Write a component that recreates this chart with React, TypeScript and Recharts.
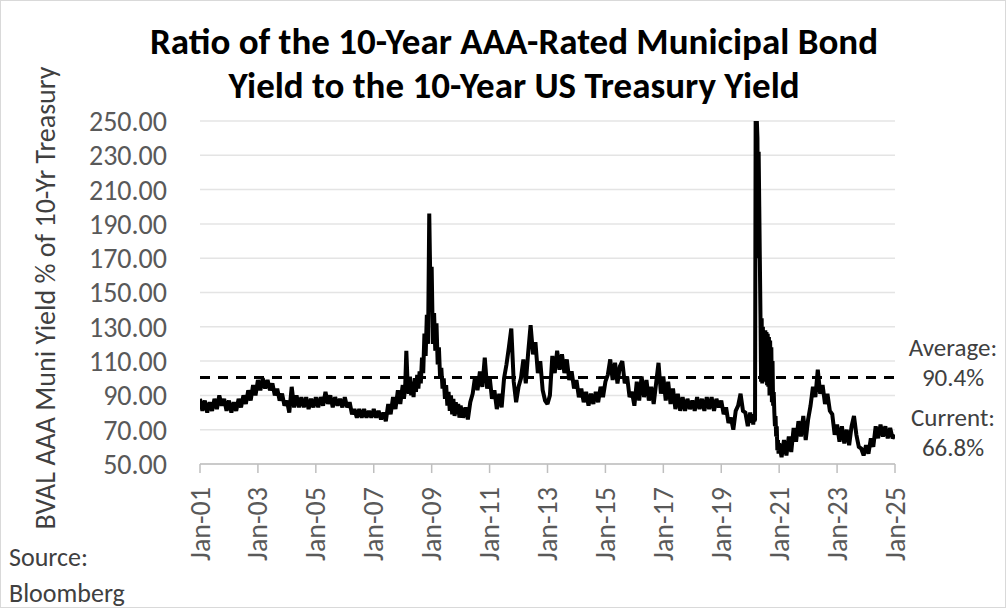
import React from 'react';
import { LineChart, Line, XAxis, YAxis, CartesianGrid, ReferenceLine } from 'recharts';

// Monthly (or finer) ratio readings, one array per year
const r2001 = [88, 81, 87, 80, 86, 81, 88, 82, 90, 84, 88, 81];
const r2002 = [87, 80, 86, 81, 88, 83, 90, 85, 93, 87, 96, 90];
const r2003 = [99, 93, 100, 94, 99, 93, 97, 90, 94, 87, 91, 84];
const r2004 = [87, 80, 95, 83, 90, 83, 89, 83, 89, 82, 88, 83];
const r2005 = [89, 83, 89, 84, 92, 85, 90, 83, 89, 84, 88, 83];
const r2006 = [89, 83, 86, 79, 82, 77, 82, 77, 82, 77, 81, 77];
const r2007 = [82, 77, 81, 76, 80, 75, 85, 79, 89, 82, 93, 85];
const r2008 = [96, 88, 94, 116, 98, 91, 101, 90, 98, 89, 100, 92, 102, 94, 104, 97, 112, 103, 126, 113, 137, 120, 196, 150];
const r2009 = [165, 120, 138, 116, 132, 108, 118, 100, 106, 94, 100, 88, 96, 84, 92, 81, 90, 79, 88, 78, 86, 79, 85, 77];
const r2010 = [84, 77, 83, 76, 86, 91, 101, 93, 104, 95, 112, 94];
const r2011 = [101, 88, 93, 82, 91, 83, 100, 108, 118, 129, 98, 86];
const r2012 = [95, 100, 111, 97, 115, 131, 114, 121, 103, 110, 93, 87];
const r2013 = [85, 90, 113, 103, 116, 105, 114, 103, 111, 99, 104, 94];
const r2014 = [99, 89, 94, 86, 92, 84, 91, 85, 92, 86, 95, 89];
const r2015 = [98, 102, 111, 99, 109, 97, 107, 110, 97, 101, 89, 92];
const r2016 = [84, 98, 87, 101, 89, 99, 87, 95, 85, 97, 109, 91];
const r2017 = [101, 87, 98, 85, 94, 82, 91, 81, 89, 81, 88, 82];
const r2018 = [87, 81, 89, 82, 88, 81, 89, 82, 89, 81, 88, 83];
const r2019 = [87, 79, 83, 74, 77, 70, 81, 84, 91, 81, 80, 72];
const r2020 = [80, 76, 79, 74, 78, 73, 77, 75, 76, 250, 250, 250, 240, 170, 232, 200, 168, 137, 98, 135,
  97, 130, 100, 126, 98, 128, 102, 127, 96, 126, 95, 124, 90, 122, 100, 118, 86, 110, 84, 92,
  80, 72, 78, 66, 72, 58, 64, 56];
const r2021 = [62, 54, 64, 55, 66, 57, 71, 63, 75, 66, 78, 64];
const r2022 = [76, 84, 95, 89, 105, 91, 96, 85, 91, 81, 79, 67];
const r2023 = [73, 63, 72, 62, 70, 61, 72, 78, 67, 60, 59, 55];
const r2024 = [61, 56, 65, 60, 72, 65, 73, 66, 72, 65, 71, 65];
const r2025 = [67];

const years = [2001, 2002, 2003, 2004, 2005, 2006, 2007, 2008, 2009, 2010, 2011, 2012, 2013,
  2014, 2015, 2016, 2017, 2018, 2019, 2020, 2021, 2022, 2023, 2024, 2025];
const yearlyRatios = [r2001, r2002, r2003, r2004, r2005, r2006, r2007, r2008, r2009, r2010, r2011,
  r2012, r2013, r2014, r2015, r2016, r2017, r2018, r2019, r2020, r2021, r2022, r2023, r2024, r2025];

const xTicks = [2001, 2003, 2005, 2007, 2009, 2011, 2013, 2015, 2017, 2019, 2021, 2023, 2025];
const yTicks = [50, 70, 90, 110, 130, 150, 170, 190, 210, 230, 250];
const averageLevel = 100.4;

const titleLines = ['Ratio of the 10-Year AAA-Rated Municipal Bond', 'Yield to the 10-Year US Treasury Yield'];
const yAxisTitle = 'BVAL AAA Muni Yield % of 10-Yr Treasury';
const averageLabel = ['Average:', '90.4%'];
const currentLabel = ['Current:', '66.8%'];
const sourceLabel = ['Source:', 'Bloomberg'];

const data: { t: number; v: number }[] = [];
years.forEach((y, yi) => {
  const arr = yearlyRatios[yi];
  arr.forEach((v, i) => data.push({ t: y + i / arr.length, v }));
});

const FONT = 'Carlito, Calibri, Lato, sans-serif';
const GRAY = '#595959';

const XTick = (props: any) => {
  const { x, payload } = props;
  const yy = 487;
  const label = 'Jan-' + String(payload.value % 100).padStart(2, '0');
  return (
    <text x={x} y={yy} transform={`rotate(-90, ${x}, ${yy})`} textAnchor="end" dominantBaseline="central"
      fill={GRAY} fontSize={28} fontFamily={FONT}>{label}</text>
  );
};

const abs = (left: number, top: number, width: number, extra: React.CSSProperties = {}): React.CSSProperties => ({
  position: 'absolute', left, top, width, fontFamily: FONT, ...extra,
});

export default function App() {
  return (
    <div style={{ position: 'absolute', left: 0, top: 0, width: 1006, height: 608, background: '#fff',
      border: '1px solid #d9d9d9', boxSizing: 'border-box', overflow: 'hidden' }}>
      <div style={{ position: 'absolute', left: -1, top: -1 }}>
        <LineChart width={1006} height={608} data={data} margin={{ top: 121, right: 111, bottom: 0, left: 0 }}>
          <CartesianGrid vertical={false} stroke="#e4e4e4" strokeWidth={1.5} />
          <XAxis dataKey="t" type="number" domain={[2001, 2025]} ticks={xTicks} height={144}
            axisLine={{ stroke: '#bfbfbf', strokeWidth: 1.5 }} tickLine={{ stroke: '#bfbfbf', strokeWidth: 1.5 }}
            tickSize={9} tick={<XTick />} interval={0} allowDataOverflow />
          <YAxis type="number" domain={[50, 250]} ticks={yTicks} width={200} axisLine={false} tickLine={false}
            tickSize={0} tickMargin={33} interval={0} allowDataOverflow
            tickFormatter={(v: number) => v.toFixed(2)}
            tick={{ fill: GRAY, fontSize: 28, fontFamily: FONT }} />
          <ReferenceLine y={averageLevel} stroke="#000" strokeWidth={3} strokeDasharray="10 8" />
          <Line type="linear" dataKey="v" stroke="#000" strokeWidth={4} strokeLinejoin="miter" strokeMiterlimit={2}
            dot={false} isAnimationActive={false} />
        </LineChart>
      </div>
      <div style={abs(0, 19, 1026, { textAlign: 'center', fontSize: 37, fontWeight: 700, lineHeight: '44px', color: '#000' })}>
        <div>{titleLines[0]}</div>
        <div>{titleLines[1]}</div>
      </div>
      <div style={abs(45 - 300, 297 - 18, 600, { height: 36, lineHeight: '36px', textAlign: 'center', fontSize: 28,
        color: '#404040', transform: 'rotate(-90deg)', transformOrigin: '50% 50%' })}>{yAxisTitle}</div>
      <div style={abs(898, 332, 108, { textAlign: 'center', fontSize: 25, lineHeight: '30px', color: '#404040' })}>
        <div>{averageLabel[0]}</div>
        <div>{averageLabel[1]}</div>
      </div>
      <div style={abs(898, 402, 108, { textAlign: 'center', fontSize: 25, lineHeight: '30px', color: '#404040' })}>
        <div>{currentLabel[0]}</div>
        <div>{currentLabel[1]}</div>
      </div>
      <div style={abs(8, 538, 200, { fontSize: 26, lineHeight: '36px', color: '#404040' })}>
        <div>{sourceLabel[0]}</div>
        <div>{sourceLabel[1]}</div>
      </div>
    </div>
  );
}
